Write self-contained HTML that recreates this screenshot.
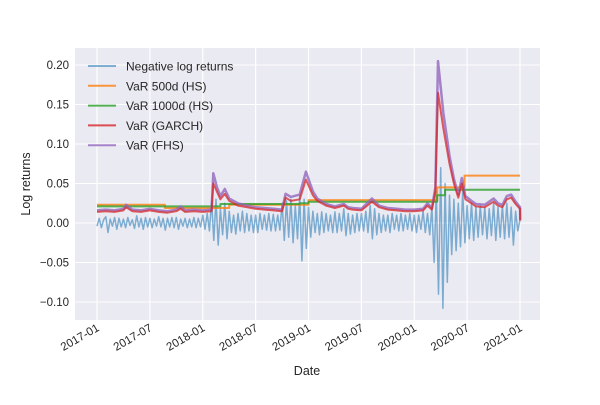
<!DOCTYPE html>
<html><head><meta charset="utf-8"><style>
body{margin:0;background:#fff;}
svg text{font-family:"Liberation Sans",sans-serif;fill:#262626;}
</style></head><body>
<svg id="chart" width="600" height="400"></svg>
<script>
// ---- data (time in months from 2017-01) ----
const xTickLabels=["2017-01","2017-07","2018-01","2018-07","2019-01","2019-07","2020-01","2020-07","2021-01"];
const xTickMonths=[0,6,12,18,24,30,36,42,48];
const yTickValues=[-0.10,-0.05,0.00,0.05,0.10,0.15,0.20];
const yTickLabels=["\u22120.10","\u22120.05","0.00","0.05","0.10","0.15","0.20"];
// negative log returns, weekly samples (0..48 months)
const returnsVals=[
-0.004,0.006,-0.006,0.004, 0.008,-0.012,0.005,-0.004, 0.007,-0.008,0.006,-0.005, 0.005,-0.006,0.007,-0.003,
0.004,-0.007,0.009,-0.005, 0.006,-0.008,0.007,-0.005, 0.006,-0.006,0.005,-0.004, 0.008,-0.005,0.006,-0.009,
0.006,-0.005,0.007,-0.006, 0.007,-0.008,0.005,-0.004, 0.006,-0.006,0.005,-0.005, 0.007,-0.006,0.006,-0.005,
0.01,-0.008,0.012,-0.01, 0.028,-0.022,0.03,-0.028, 0.018,-0.015,0.025,-0.02, 0.015,-0.012,0.01,-0.014,
0.012,-0.01,0.015,-0.012, 0.012,-0.01,0.01,-0.012, 0.01,-0.012,0.012,-0.008, 0.01,-0.009,0.012,-0.01,
0.011,-0.01,0.01,-0.009, 0.025,-0.022,0.028,-0.018, 0.03,-0.025,0.022,-0.02, 0.035,-0.048,0.03,-0.032,
0.02,-0.018,0.015,-0.012, 0.012,-0.015,0.014,-0.012, 0.012,-0.01,0.01,-0.012, 0.014,-0.012,0.012,-0.01,
0.018,-0.016,0.012,-0.014, 0.01,-0.012,0.012,-0.01, 0.012,-0.01,0.015,-0.012, 0.022,-0.02,0.018,-0.015,
0.012,-0.012,0.01,-0.01, 0.01,-0.012,0.012,-0.008, 0.01,-0.01,0.012,-0.01, 0.01,-0.008,0.012,-0.01,
0.01,-0.012,0.01,-0.008, 0.015,-0.012,0.012,-0.015, 0.02,-0.05,0.04,-0.09, 0.07,-0.108,0.05,-0.075,
0.035,-0.04,0.03,-0.035, 0.025,-0.03,0.04,-0.025, 0.022,-0.02,0.025,-0.022, 0.02,-0.018,0.022,-0.015,
0.02,-0.02,0.018,-0.016, 0.025,-0.022,0.02,-0.018, 0.022,-0.02,0.025,-0.018, 0.02,-0.028,0.015,-0.01,
0.004];
const garchMonths=[0,1,2,3,3.3,4,5,6,7,8,9,9.5,10,11,12,13,13.2,13.6,14,14.5,15,16,17,18,19,20,21,21.4,22,23,23.7,24.5,25,26,27,28,28.5,29,30,31.2,32,33,34,35,36,37,37.5,38,38.4,38.7,39.3,40,40.5,41,41.4,41.8,42.5,43,44,45,45.5,46,46.5,47,47.5,48,48.02];
const garchVals=[0.014,0.015,0.014,0.016,0.02,0.015,0.014,0.016,0.014,0.013,0.015,0.018,0.014,0.015,0.014,0.015,0.05,0.04,0.03,0.037,0.028,0.022,0.02,0.018,0.017,0.016,0.015,0.032,0.028,0.03,0.055,0.035,0.028,0.022,0.019,0.022,0.018,0.017,0.016,0.027,0.02,0.017,0.016,0.015,0.015,0.016,0.022,0.017,0.04,0.165,0.12,0.075,0.05,0.032,0.05,0.03,0.025,0.021,0.02,0.027,0.022,0.02,0.03,0.032,0.024,0.018,0.003];
const fhsVals=[0.016,0.017,0.016,0.018,0.023,0.017,0.016,0.018,0.016,0.015,0.017,0.021,0.016,0.017,0.016,0.017,0.063,0.046,0.034,0.043,0.031,0.025,0.022,0.02,0.019,0.018,0.017,0.037,0.033,0.036,0.065,0.04,0.031,0.024,0.021,0.024,0.02,0.019,0.018,0.031,0.022,0.019,0.018,0.017,0.017,0.018,0.025,0.019,0.045,0.205,0.14,0.085,0.056,0.036,0.057,0.034,0.028,0.024,0.023,0.031,0.025,0.023,0.034,0.036,0.027,0.02,0.004];
const hs500Months=[0,7.7,7.7,15,15,24,24,38.6,38.6,41.7,41.7,48];
const hs500Vals=[0.023,0.023,0.019,0.019,0.023,0.023,0.029,0.029,0.045,0.045,0.06,0.06];
const hs1000Months=[0,14,14,23,23,24,24,38.6,38.6,39.5,39.5,48];
const hs1000Vals=[0.021,0.021,0.024,0.024,0.025,0.025,0.027,0.027,0.035,0.035,0.042,0.042];

const svg=document.getElementById('chart');
const NS='http://www.w3.org/2000/svg';
const L=75,R=540,T=48,B=320;
const xs=m=>97+m*(423/48);
const ys=v=>223-v*(158/0.2);
function mk(tag,attrs,parent){const e=document.createElementNS(NS,tag);for(const k in attrs)e.setAttribute(k,attrs[k]);(parent||svg).appendChild(e);return e;}
const bg=mk('rect',{x:L,y:T,width:R-L,height:B-T,fill:'#EAEAF2'});


yTickValues.forEach((v,i)=>{
  const g=mk('line',{x1:L,x2:R,y1:ys(v),y2:ys(v),stroke:'#fff','stroke-width':1.1});
  
  
  const t=mk('text',{x:L-6,y:ys(v)+4,'text-anchor':'end','font-size':11.5});
  t.textContent=yTickLabels[i];
  
  
});
xTickMonths.forEach((m,i)=>{
  const g=mk('line',{x1:xs(m),x2:xs(m),y1:T,y2:B,stroke:'#fff','stroke-width':1.1});
  
  
  const t=mk('text',{x:xs(m)+3,y:B+10,'text-anchor':'end','font-size':11.5,transform:`rotate(-30 ${xs(m)+3} ${B+10})`});
  t.textContent=xTickLabels[i];
  
  
});
function line(ms,vs,color,w,op,name){
  const d=ms.map((m,i)=>(i?'L':'M')+xs(m).toFixed(1)+','+ys(vs[i]).toFixed(1)).join('');
  const p=mk('path',{d:d,fill:'none',stroke:color,'stroke-width':w,'stroke-opacity':op,'stroke-linejoin':'round'});
  
  
}
const retMonths=returnsVals.map((_,i)=>i*0.25);
line(retMonths,returnsVals,'#1f77b4',1.5,0.55,'negative-log-returns-line');
line(hs500Months,hs500Vals,'#ff7f0e',2,0.8,'var-500d-hs-line');
line(hs1000Months,hs1000Vals,'#2ca02c',2,0.8,'var-1000d-hs-line');
line(garchMonths,fhsVals,'#9467bd',2.5,0.8,'var-fhs-line');
line(garchMonths,garchVals,'#d62728',2,0.75,'var-garch-line');
// legend
const leg=[["Negative log returns",'#1f77b4',0.55],["VaR 500d (HS)",'#ff7f0e',0.8],["VaR 1000d (HS)",'#2ca02c',0.8],["VaR (GARCH)",'#d62728',0.8],["VaR (FHS)",'#9467bd',0.8]];
const lg=mk('g',{});


leg.forEach((e,i)=>{
  const y=66+i*19.8;
  const l=mk('line',{x1:88,x2:116,y1:y,y2:y,stroke:e[1],'stroke-width':2,'stroke-opacity':e[2]},lg);
  
  
  const t=mk('text',{x:126,y:y+4.5,'font-size':12},lg);
  t.textContent=e[0];
  
  
});
const xt=mk('text',{x:307,y:375,'text-anchor':'middle','font-size':12.5});
xt.textContent='Date';


const yt=mk('text',{x:30,y:184,'text-anchor':'middle','font-size':12.5,transform:'rotate(-90 30 184)'});
yt.textContent='Log returns';


</script>
</body></html>
